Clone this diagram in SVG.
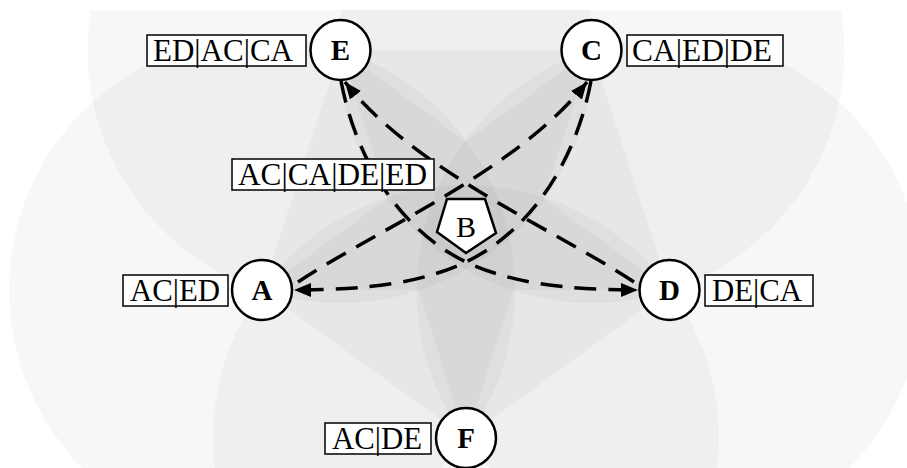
<svg xmlns="http://www.w3.org/2000/svg" width="907" height="468" viewBox="0 0 907 468">
  <style>
    .zone { fill: #000; fill-opacity: 0.03; }
    .node circle { fill: #fff; stroke: #000; stroke-width: 2.5; }
    .node text { font-family: "Liberation Serif", "Times New Roman", serif; font-weight: bold; font-size: 29px; text-anchor: middle; fill: #000; }
    .tag rect { fill: #fff; stroke: #000; stroke-width: 1.5; }
    .tag text { font-family: "Liberation Serif", "Times New Roman", serif; font-size: 32px; fill: #000; }
    .hub polygon { fill: #fff; stroke: #000; stroke-width: 2.5; stroke-linejoin: miter; }
    .hub text { font-family: "Liberation Serif", "Times New Roman", serif; font-size: 30px; text-anchor: middle; fill: #000; }
    .flow { fill: none; stroke: #000; stroke-width: 3.5; stroke-dasharray: 22 12; }
  </style>
  <defs>
    <clipPath id="field">
      <rect x="0" y="10" width="907" height="458"/>
    </clipPath>
    <marker id="head" markerUnits="userSpaceOnUse" markerWidth="18" markerHeight="14" refX="17" refY="7" orient="auto">
      <path d="M0,0 L17,7 L0,14 Z" fill="#000"/>
    </marker>
  </defs>

  <!-- coverage zones -->
  <g id="zones" clip-path="url(#field)">
    <circle class="zone" cx="340.5" cy="50" r="253"/>
    <circle class="zone" cx="591.5" cy="50" r="253"/>
    <circle class="zone" cx="262" cy="290" r="253"/>
    <circle class="zone" cx="669.5" cy="290" r="253"/>
    <circle class="zone" cx="466" cy="438" r="253"/>
    <polygon class="zone" points="340.5,50 591.5,50 669.5,290 466,438 262,290"/>
    <polygon class="zone" points="340.5,50 669.5,290 262,290 591.5,50 466,438"/>
  </g>

  <!-- flows -->
  <g id="connectors">
    <path class="flow" d="M341,81 C356,160 400,230 466,262 C509,282 560,290 638,290" marker-end="url(#head)"/>
    <path class="flow" d="M591,81 C576,160 532,230 466,262 C423,282 372,290 294,290" marker-end="url(#head)"/>
    <path class="flow" d="M298,282 C378,229 518,170 587,82" marker-end="url(#head)"/>
    <path class="flow" d="M634,282 C554,229 414,170 345,82" marker-end="url(#head)"/>
  </g>

  <g id="node-B" class="hub">
    <polygon points="447,199 485,199 496,233 466,253 437,232"/>
    <text x="466" y="237">B</text>
  </g>

  <g id="node-E" class="node">
    <circle cx="340.5" cy="50" r="30"/>
    <text x="340.5" y="60">E</text>
  </g>
  <g id="node-C" class="node">
    <circle cx="591.5" cy="50" r="30"/>
    <text x="591.5" y="60">C</text>
  </g>
  <g id="node-A" class="node">
    <circle cx="262" cy="290" r="30"/>
    <text x="262" y="300">A</text>
  </g>
  <g id="node-D" class="node">
    <circle cx="669.5" cy="290" r="30"/>
    <text x="669.5" y="300">D</text>
  </g>
  <g id="node-F" class="node">
    <circle cx="466" cy="438" r="30"/>
    <text x="466" y="448">F</text>
  </g>

  <!-- tables -->
  <g id="tag-E" class="tag">
    <rect x="147" y="35" width="159" height="31"/>
    <text x="153" y="61" textLength="140" lengthAdjust="spacingAndGlyphs">ED|AC|CA</text>
  </g>
  <g id="tag-C" class="tag">
    <rect x="627" y="35" width="156" height="31"/>
    <text x="632" y="61" textLength="140" lengthAdjust="spacingAndGlyphs">CA|ED|DE</text>
  </g>
  <g id="tag-B" class="tag">
    <rect x="232" y="159" width="202" height="31"/>
    <text x="238" y="185" textLength="189" lengthAdjust="spacingAndGlyphs">AC|CA|DE|ED</text>
  </g>
  <g id="tag-A" class="tag">
    <rect x="123" y="275" width="105" height="31"/>
    <text x="130" y="301" textLength="90" lengthAdjust="spacingAndGlyphs">AC|ED</text>
  </g>
  <g id="tag-D" class="tag">
    <rect x="705" y="275" width="108" height="31"/>
    <text x="712" y="301" textLength="90" lengthAdjust="spacingAndGlyphs">DE|CA</text>
  </g>
  <g id="tag-F" class="tag">
    <rect x="325" y="423" width="106" height="31"/>
    <text x="332" y="449" textLength="90" lengthAdjust="spacingAndGlyphs">AC|DE</text>
  </g>
</svg>
